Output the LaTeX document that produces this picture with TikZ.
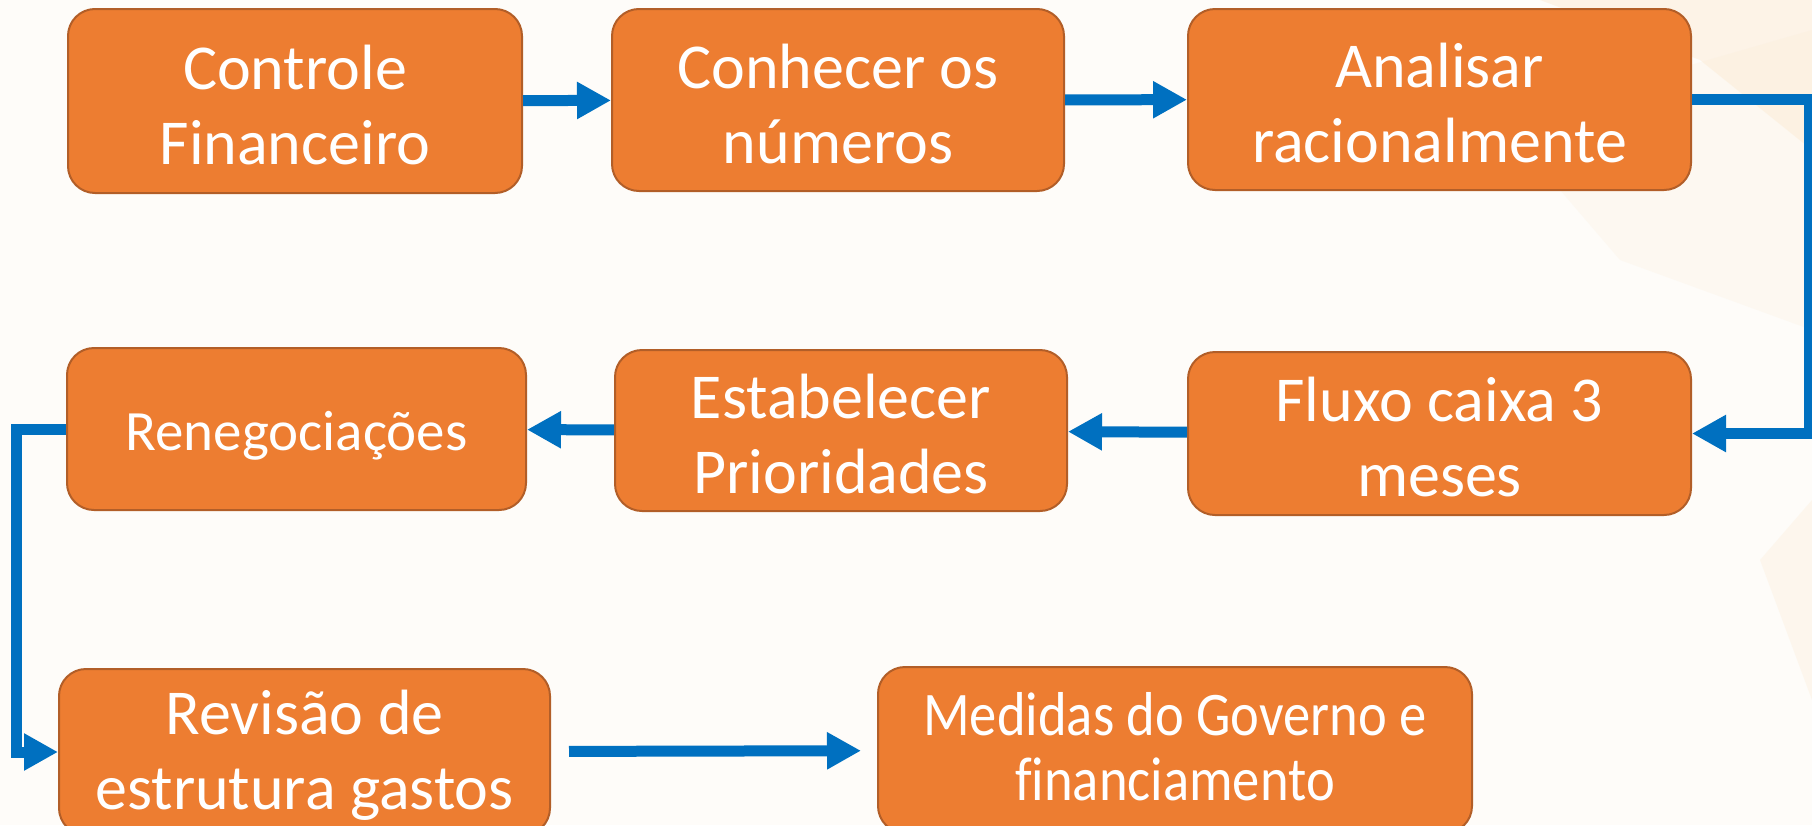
\documentclass[tikz,border=0pt]{standalone}
\usepackage{fontspec}
\setmainfont{Carlito}[Ligatures=NoCommon]
\newfontfamily\narrowfont[FakeStretch=0.88,Ligatures=NoCommon]{Carlito}
\usetikzlibrary{arrows.meta}

\definecolor{boxfill}{RGB}{237,125,49}
\definecolor{boxedge}{RGB}{178,94,40}
\definecolor{flowblue}{RGB}{0,112,192}
\definecolor{paper}{RGB}{254,252,249}
\definecolor{glow}{RGB}{252,234,210}

\tikzset{
  box/.style={rectangle, rounded corners=27pt, draw=boxedge, line width=2pt,
    fill=boxfill, text=white, align=center, inner sep=0pt,
    text height=126pt, text depth=0pt,
    font=\fontsize{64pt}{75pt}\selectfont},
  flow/.style={draw=flowblue, line width=11pt,
    -{Triangle[length=34pt,width=35pt]}}
}

\begin{document}
\begin{tikzpicture}[x=1pt,y=-1pt]
% paper and the faint warm patches on the right
\fill[paper] (0,0) rectangle (1812,825);
\fill[glow, opacity=0.45] (1540,0) -- (1812,0) -- (1812,150) -- (1700,60) -- cycle;
\fill[glow, opacity=0.2] (1500,120) -- (1812,30) -- (1812,330) -- (1620,260) -- cycle;
\fill[glow, opacity=0.3] (1760,560) -- (1812,500) -- (1812,700) -- cycle;
\useasboundingbox (0,0) rectangle (1812,825);

% the eight steps
\node[box, minimum width=454pt, minimum height=184pt] (ctrl) at (295,101) {Controle\\Financeiro};
\node[box, minimum width=452pt, minimum height=182pt] (num) at (838,100) {Conhecer os\\números};
\node[box, minimum width=503pt, minimum height=181pt] (anal) at (1439.5,99.5) {Analisar\\racionalmente};
\node[box, minimum width=503pt, minimum height=163pt] (fluxo) at (1439.5,433.5) {Fluxo caixa 3\\meses};
\node[box, minimum width=452pt, minimum height=161pt] (prio) at (841,430.5) {Estabelecer\\Prioridades};
\node[box, minimum width=459pt, minimum height=162pt, text height=45pt, text depth=3pt,
  font=\fontsize{57pt}{66pt}\selectfont] (reneg) at (296.5,429) {Renegociações};
\node[box, minimum width=491pt, minimum height=166pt, text height=114pt] (rev) at (304.5,752) {Revisão de\\estrutura gastos};
\node[box, minimum width=594pt, minimum height=166pt, text height=100pt,
  font=\narrowfont\fontsize{62pt}{65pt}\selectfont] (gov) at (1175,750) {Medidas do Governo e\\financiamento};

% connectors
\draw[flow] (ctrl) -- (num);
\draw[flow] (num) -- (anal);
\draw[flow] (anal.east) -- ++(117,0) |- (fluxo.east);
\draw[flow] (fluxo) -- (prio);
\draw[flow] (prio) -- (reneg);
\draw[flow] (reneg.west) -- ++(-49.5,0) |- (rev.west);
\draw[flow, shorten <=18pt, shorten >=16pt] (rev) -- (gov);
\end{tikzpicture}
\end{document}
